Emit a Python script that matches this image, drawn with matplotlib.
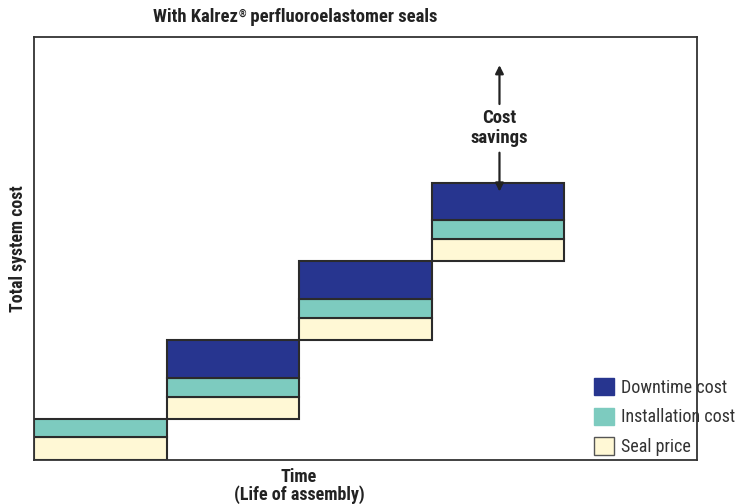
import matplotlib.pyplot as plt
import numpy as np

# stacked step costs for each interval (arbitrary units, axis runs 0..100)
periods = [0, 1, 2, 3]
seal_price = [5.4, 5.2, 5.2, 5.2]
installation_cost = [4.3, 4.5, 4.5, 4.5]
downtime_cost = [0.0, 9.0, 9.0, 8.8]

series_labels = ["Seal price", "Installation cost", "Downtime cost"]
series_colors = ["#fff8d5", "#7dcbbf", "#27358f"]

plt.rcParams['font.family'] = ['Roboto Condensed', 'DejaVu Sans']
txt_color = '#222222'

fig = plt.figure(figsize=(7.53, 5.04), dpi=100)
ax = fig.add_axes([0.0452, 0.0873, 0.8805, 0.8393])

# each step starts where the previous one ended
totals = np.array(seal_price) + np.array(installation_cost) + np.array(downtime_cost)
base = np.concatenate([[0], np.cumsum(totals)[:-1]])

bottom = base.copy()
for vals, lab, col in zip([seal_price, installation_cost, downtime_cost], series_labels, series_colors):
    vals = np.array(vals)
    mask = vals > 0
    ax.bar(np.array(periods)[mask], vals[mask], width=1.0, bottom=bottom[mask], align='edge',
           color=col, edgecolor='#2b2b2b', linewidth=1.5, label=lab)
    bottom = bottom + vals

ax.set_xlim(0, 5)
ax.set_ylim(0, 100)
ax.set_xticks([])
ax.set_yticks([])
for s in ax.spines.values():
    s.set_color('#333333')
    s.set_linewidth(1.3)

# cost savings annotation
arrow_x = 3.51
ax.annotate('', xy=(arrow_x, 94.0), xytext=(arrow_x, 83.5),
            arrowprops=dict(arrowstyle='-|>', color=txt_color, lw=1.6, mutation_scale=12))
ax.annotate('', xy=(arrow_x, 62.8), xytext=(arrow_x, 73.3),
            arrowprops=dict(arrowstyle='-|>', color=txt_color, lw=1.6, mutation_scale=12))
ax.text(arrow_x, 78.5, "Cost\nsavings", ha='center', va='center', fontsize=13.5,
        fontweight='bold', color=txt_color, linespacing=1.15)

# title with a small raised registered mark
renderer = fig.canvas.get_renderer()
ty = 1 - 22 / 504
t1 = fig.text(153 / 753, ty, "With Kalrez", ha='left', va='baseline', fontsize=13.4,
              fontweight='bold', color=txt_color)
x1 = t1.get_window_extent(renderer).x1 / fig.bbox.width
t2 = fig.text(x1 + 0.5 / 753, ty + 5 / 504, "\u00ae", ha='left', va='baseline', fontsize=7,
              fontweight='bold', color=txt_color)
x2 = t2.get_window_extent(renderer).x1 / fig.bbox.width
fig.text(x2, ty, " perfluoroelastomer seals", ha='left', va='baseline', fontsize=13.4,
         fontweight='bold', color=txt_color)

fig.text(299 / 753, 1 - 486 / 504, "Time\n(Life of assembly)", ha='center', va='center',
         fontsize=13, fontweight='bold', color=txt_color, linespacing=0.95)
fig.text(18 / 753, 1 - 249 / 504, "Total system cost", ha='center', va='center', rotation=90,
         fontsize=12.8, fontweight='bold', color=txt_color)

leg_handles = [plt.Rectangle((0, 0), 1, 1, facecolor=series_colors[2], edgecolor=series_colors[2]),
               plt.Rectangle((0, 0), 1, 1, facecolor=series_colors[1], edgecolor=series_colors[1]),
               plt.Rectangle((0, 0), 1, 1, facecolor=series_colors[0], edgecolor='#555555', linewidth=1)]
fig.legend(leg_handles, [series_labels[2], series_labels[1], series_labels[0]],
           loc='center left', bbox_to_anchor=(587 / 753, 1 - 417 / 504), frameon=False,
           handlelength=1.1, handleheight=1.1, handletextpad=0.4, labelspacing=0.6,
           prop={'size': 13}, borderaxespad=0, labelcolor='#333333')

fig.savefig('out.png', dpi=100)
